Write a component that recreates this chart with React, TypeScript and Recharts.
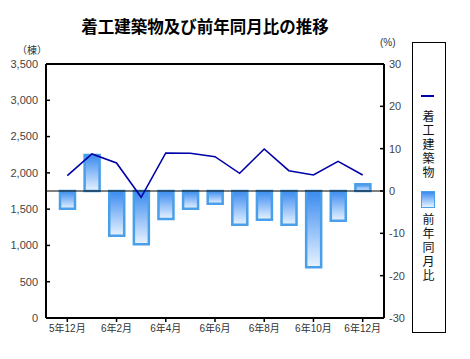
import React from 'react';
import { ComposedChart, Bar, Line, XAxis, YAxis, ReferenceLine } from 'recharts';

const categories = ['5年12月', '6年1月', '6年2月', '6年3月', '6年4月', '6年5月', '6年6月', '6年7月', '6年8月', '6年9月', '6年10月', '6年11月', '6年12月'];
const buildings = [1961, 2260, 2136, 1663, 2274, 2270, 2223, 1994, 2329, 2030, 1970, 2159, 1970];
const yoyPct = [-4.2, 8.5, -10.6, -12.6, -6.6, -4.2, -3.0, -8.0, -6.8, -8.0, -18.0, -7.0, 1.6];
const leftTicks = [0, 500, 1000, 1500, 2000, 2500, 3000, 3500];
const rightTicks = [-30, -20, -10, 0, 10, 20, 30];

const data = categories.map((c, i) => ({ month: c, count: buildings[i], pct: yoyPct[i] }));

const FONT = '"Liberation Sans", "Noto Sans CJK JP", sans-serif';
const CJK = '"Noto Sans CJK JP", sans-serif';
const LINE_COLOR = '#0000a8';

const VerticalText = ({ text, top }: { text: string; top: number }) => (
  <div style={{ position: 'absolute', top, left: 7, writingMode: 'vertical-rl', textOrientation: 'upright', fontFamily: CJK, fontSize: 12, lineHeight: '16px', letterSpacing: '2px', color: '#111' }}>
    {text}
  </div>
);

export default function App() {
  return (
    <div style={{ position: 'absolute', left: 0, top: 0, width: 470, height: 359, background: '#fff' }}>
      <div style={{ position: 'absolute', left: 0, width: 410, top: 15, textAlign: 'center', fontFamily: CJK, fontWeight: 700, fontSize: 16.5, lineHeight: '22px', color: '#000' }}>
        着工建築物及び前年同月比の推移
      </div>
      <div style={{ position: 'absolute', left: 17, top: 43, fontFamily: CJK, fontSize: 10, lineHeight: '14px', color: '#333' }}>（棟）</div>
      <div style={{ position: 'absolute', left: 380, top: 36, fontFamily: FONT, fontSize: 10, lineHeight: '14px', color: '#333' }}>(%)</div>
      <ComposedChart width={470} height={359} data={data} margin={{ top: 64, right: 0, bottom: 11, left: 0 }} style={{ position: 'absolute', left: 0, top: 0 }}>
        <defs>
          <linearGradient id="barGrad" x1="0" y1="0" x2="0" y2="1">
            <stop offset="0" stopColor="#3a8af0" />
            <stop offset="1" stopColor="#e8f3ff" />
          </linearGradient>
        </defs>
        <XAxis
          dataKey="month"
          interval={1}
          padding={{ left: 9, right: 9 }}
          height={30}
          axisLine={{ stroke: '#000', strokeWidth: 2 }}
          tickLine={{ stroke: '#000', strokeWidth: 1.5 }}
          tickSize={4}
          tickMargin={3}
          tick={{ fontFamily: FONT, fontSize: 10, fill: '#333' }}
        />
        <YAxis
          yAxisId="left"
          orientation="left"
          width={46}
          domain={[0, 3500]}
          ticks={leftTicks}
          interval={0}
          tickFormatter={(v: number) => v.toLocaleString('en-US')}
          axisLine={{ stroke: '#000', strokeWidth: 2 }}
          tickLine={{ stroke: '#000', strokeWidth: 1.5 }}
          tickSize={-4}
          tickMargin={12}
          tick={{ fontFamily: FONT, fontSize: 11, fill: '#444' }}
        />
        <YAxis
          yAxisId="right"
          orientation="right"
          width={86}
          domain={[-30, 30]}
          ticks={rightTicks}
          interval={0}
          axisLine={{ stroke: '#000', strokeWidth: 2 }}
          tickLine={{ stroke: '#000', strokeWidth: 1.5 }}
          tickSize={-4}
          tickMargin={9}
          tick={{ fontFamily: FONT, fontSize: 11, fill: '#444' }}
        />
        <ReferenceLine yAxisId="right" y={30} stroke="#000" strokeWidth={2} ifOverflow="extendDomain" />
        <Bar yAxisId="right" dataKey="pct" barSize={15} fill="url(#barGrad)" stroke="#4a9fea" strokeWidth={2.5} isAnimationActive={false} />
        <ReferenceLine yAxisId="right" y={0} stroke="#000" strokeWidth={1} />
        <Line yAxisId="left" dataKey="count" type="linear" stroke={LINE_COLOR} strokeWidth={1.6} dot={false} activeDot={false} isAnimationActive={false} />
      </ComposedChart>
      <div style={{ position: 'absolute', left: 412, top: 42, width: 34, height: 291, border: '1px solid #000', boxSizing: 'border-box' }}>
        <div style={{ position: 'absolute', left: 8, top: 52, width: 13, height: 2, background: LINE_COLOR }} />
        <VerticalText text="着工建築物" top={67} />
        <div style={{ position: 'absolute', left: 8, top: 148, width: 12, height: 15, background: 'linear-gradient(#3a8af0, #e8f3ff)', border: '1px solid #4a9fea' }} />
        <VerticalText text="前年同月比" top={170} />
      </div>
    </div>
  );
}
